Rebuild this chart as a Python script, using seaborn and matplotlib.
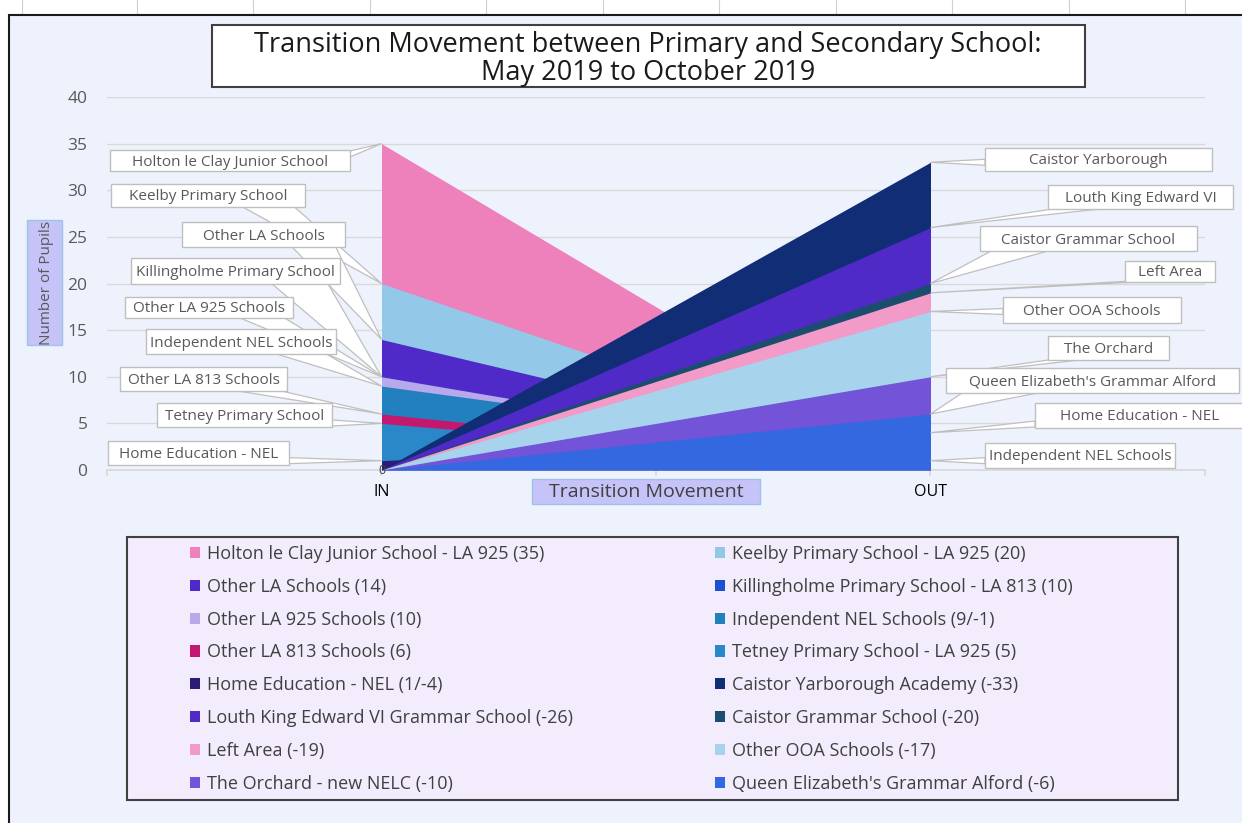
import numpy as np
import matplotlib
matplotlib.use("Agg")
import matplotlib.pyplot as plt
import matplotlib.patches as mpatches
import seaborn as sns

# ---------------------------------------------
# Data
# ---------------------------------------------
categories = ["IN", "OUT"]

legend_labels = [
    "Holton le Clay Junior School - LA 925 (35)",
    "Keelby Primary School - LA 925 (20)",
    "Other LA Schools (14)",
    "Killingholme Primary School - LA 813 (10)",
    "Other LA 925 Schools (10)",
    "Independent NEL Schools (9/-1)",
    "Other LA 813 Schools (6)",
    "Tetney Primary School - LA 925 (5)",
    "Home Education - NEL (1/-4)",
    "Caistor Yarborough Academy (-33)",
    "Louth King Edward VI Grammar School (-26)",
    "Caistor Grammar School (-20)",
    "Left Area (-19)",
    "Other OOA Schools (-17)",
    "The Orchard - new NELC (-10)",
    "Queen Elizabeth's Grammar Alford (-6)",
]

in_values = [35, 20, 14, 10, 10, 9, 6, 5, 1, 0, 0, 0, 0, 0, 0, 0]
out_values = [0, 0, 0, 0, 0, 1, 0, 0, 4, 33, 26, 20, 19, 17, 10, 6]

colors = [
    "#EE80BC", "#93C8E8", "#4F2AC8", "#1F4FD0",
    "#B8A8EC", "#2380BE", "#C4186F", "#2A88C8",
    "#2B1C78", "#112D75", "#4F2AC6", "#1B4D6E",
    "#F29AC8", "#A7D4EC", "#7353D8", "#3368E0",
]

# callout texts and which series they point to
in_callouts = ["Holton le Clay Junior School", "Keelby Primary School", "Other LA Schools",
               "Killingholme Primary School", "Other LA 925 Schools", "Independent NEL Schools",
               "Other LA 813 Schools", "Tetney Primary School", "Home Education - NEL"]
in_callout_series = [0, 1, 2, 3, 4, 5, 6, 7, 8]

out_callouts = ["Caistor Yarborough", "Louth King Edward VI", "Caistor Grammar School",
                "Left Area", "Other OOA Schools", "The Orchard",
                "Queen Elizabeth's Grammar Alford", "Home Education - NEL",
                "Independent NEL Schools"]
out_callout_series = [9, 10, 11, 12, 13, 14, 15, 8, 5]

# callout boxes in image pixels (x0, x1, y0, y1), y measured from the top
in_boxes = [(110, 350, 150, 171), (111, 305, 184, 207), (182, 345, 222, 247),
            (131, 340, 258, 284), (125, 293, 297, 318), (146, 336, 329, 354),
            (120, 287, 367, 391), (157, 332, 403, 427), (108, 289, 441, 465)]
out_boxes = [(985, 1212, 148, 171), (1048, 1233, 185, 209), (980, 1197, 226, 251),
             (1125, 1215, 261, 282), (1003, 1181, 297, 323), (1048, 1169, 336, 360),
             (946, 1239, 368, 393), (1035, 1245, 403, 428), (985, 1175, 443, 468)]

# ---------------------------------------------
# Style
# ---------------------------------------------
W, H = 1242, 823
sns.set_theme(style="white")
plt.rcParams["font.family"] = ["Open Sans", "DejaVu Sans"]

fig = plt.figure(figsize=(W / 100, H / 100), dpi=100)
fig.patch.set_facecolor("white")


def fx(px):
    return px / W


def fy(py):
    return 1 - py / H


def fig_rect(x0, x1, y0, y1, **kw):
    r = mpatches.Rectangle((fx(x0), fy(y1)), fx(x1) - fx(x0), fy(y0) - fy(y1),
                           transform=fig.transFigure, **kw)
    fig.patches.append(r)
    return r


# chart area background with the dark frame
fig_rect(9, 1400, 15, 900, facecolor="#EEF2FD", edgecolor="#1a1a1a", lw=1.5, zorder=-10)
for gx in [22, 137, 253, 370, 486, 603, 719, 836, 952, 1069, 1185]:
    fig.add_artist(plt.Line2D([fx(gx)] * 2, [fy(14), 1], transform=fig.transFigure,
                              color="#D0D0D0", lw=0.8, zorder=-10))

ax = fig.add_axes([fx(107), fy(470), fx(1205) - fx(107), fy(97) - fy(470)])
ax.patch.set_alpha(0)

x = np.arange(len(categories))
for i, name in enumerate(legend_labels):
    ax.fill_between(x, 0, [in_values[i], out_values[i]], color=colors[i], lw=0,
                    label=name, zorder=2 + i * 0.01)

ax.set_xlim(-0.5, 1.5)
ax.set_ylim(0, 40)
ax.set_yticks(np.arange(0, 41, 5))
ax.yaxis.grid(True, color="#D9D9D9", lw=1)
ax.set_axisbelow(True)
for s in ["top", "right", "left"]:
    ax.spines[s].set_visible(False)
ax.spines["bottom"].set_color("#D9D9D9")
ax.spines["bottom"].set_zorder(1)
ax.tick_params(axis="y", length=0, pad=14, labelsize=12.5, labelcolor="#595959")
ax.set_xticks([-0.5, 0, 0.5, 1, 1.5])
ax.set_xticklabels(["", categories[0], "", categories[1], ""])
ax.tick_params(axis="x", length=4, color="#D9D9D9", bottom=True, pad=6,
               labelsize=11.5, labelcolor="#000000")
ax.text(0, 0, "0", ha="center", va="center", fontsize=9, color="#404040", zorder=5)


# callouts: white box + white wedge pointing at the data point
def callout(text, xcat, value, bx, left_side):
    x0, x1, y0, y1 = bx
    tx, ty = ax.transData.transform((xcat, value))
    ty = H - ty  # to top-down pixels
    w = x1 - x0
    if left_side:
        bxa, bxb = x1 - 0.33 * w, x1 - 0.06 * w
        side_x = x1
    else:
        bxa, bxb = x0 + 0.06 * w, x0 + 0.33 * w
        side_x = x0
    if ty > y1 + 8:
        base = [(bxa, y1 - 1), (bxb, y1 - 1)]
    elif ty < y0 - 8:
        base = [(bxa, y0 + 1), (bxb, y0 + 1)]
    else:
        cy = min(max(ty, y0 + 4), y1 - 4)
        base = [(side_x, cy - 3), (side_x, cy + 3)]
    pts = [(fx(px), fy(py)) for px, py in base + [(tx, ty)]]
    fig.patches.append(mpatches.Polygon(pts, closed=True, transform=fig.transFigure,
                                        facecolor="white", edgecolor="#BFBFBF", lw=0.9,
                                        zorder=6))
    fig_rect(x0, x1, y0, y1, facecolor="white", edgecolor="#BFBFBF", lw=1, zorder=7)
    fig.text(fx((x0 + x1) / 2), fy((y0 + y1) / 2 + 1.5), text, ha="center", va="center",
             fontsize=11, color="#595959", zorder=8)


for txt, si, bx in zip(in_callouts, in_callout_series, in_boxes):
    callout(txt, 0, in_values[si], bx, True)
for txt, si, bx in zip(out_callouts, out_callout_series, out_boxes):
    callout(txt, 1, out_values[si], bx, False)

# title
fig_rect(212, 1085, 25, 87, facecolor="white", edgecolor="#404040", lw=1.5, zorder=3)
fig.text(fx(648), fy(59),
         "Transition Movement between Primary and Secondary School:\nMay 2019 to October 2019",
         ha="center", va="center", fontsize=19.5, color="#1a1a1a", linespacing=1.02, zorder=4)

# axis titles
fig_rect(27, 62, 220, 345, facecolor="#C5C3F8", edgecolor="#9DC3E6", lw=1, zorder=3)
fig.text(fx(46), fy(283), "Number of Pupils", rotation=90, ha="center", va="center",
         fontsize=11, color="#595959", zorder=4)
fig_rect(532, 760, 479, 504, facecolor="#C5C3F8", edgecolor="#9DC3E6", lw=1, zorder=3)
fig.text(fx(646), fy(492), "Transition Movement", ha="center", va="center",
         fontsize=14, color="#404040", zorder=4)

# legend box + two columns in row-major order
fig_rect(127, 1178, 537, 800, facecolor="#F3ECFC", edgecolor="#404040", lw=1.5, zorder=-5)
handles, labels = ax.get_legend_handles_labels()
leg_kw = dict(loc="upper left", frameon=False, fontsize=13, handlelength=0.58,
              handleheight=0.58, handletextpad=0.35, labelspacing=0.82, labelcolor="#404040",
              borderpad=0, borderaxespad=0)
fig.legend(handles[0::2], labels[0::2], bbox_to_anchor=(fx(190), fy(545)), **leg_kw)
fig.legend(handles[1::2], labels[1::2], bbox_to_anchor=(fx(715), fy(545)), **leg_kw)

fig.savefig("out.png", dpi=100)
